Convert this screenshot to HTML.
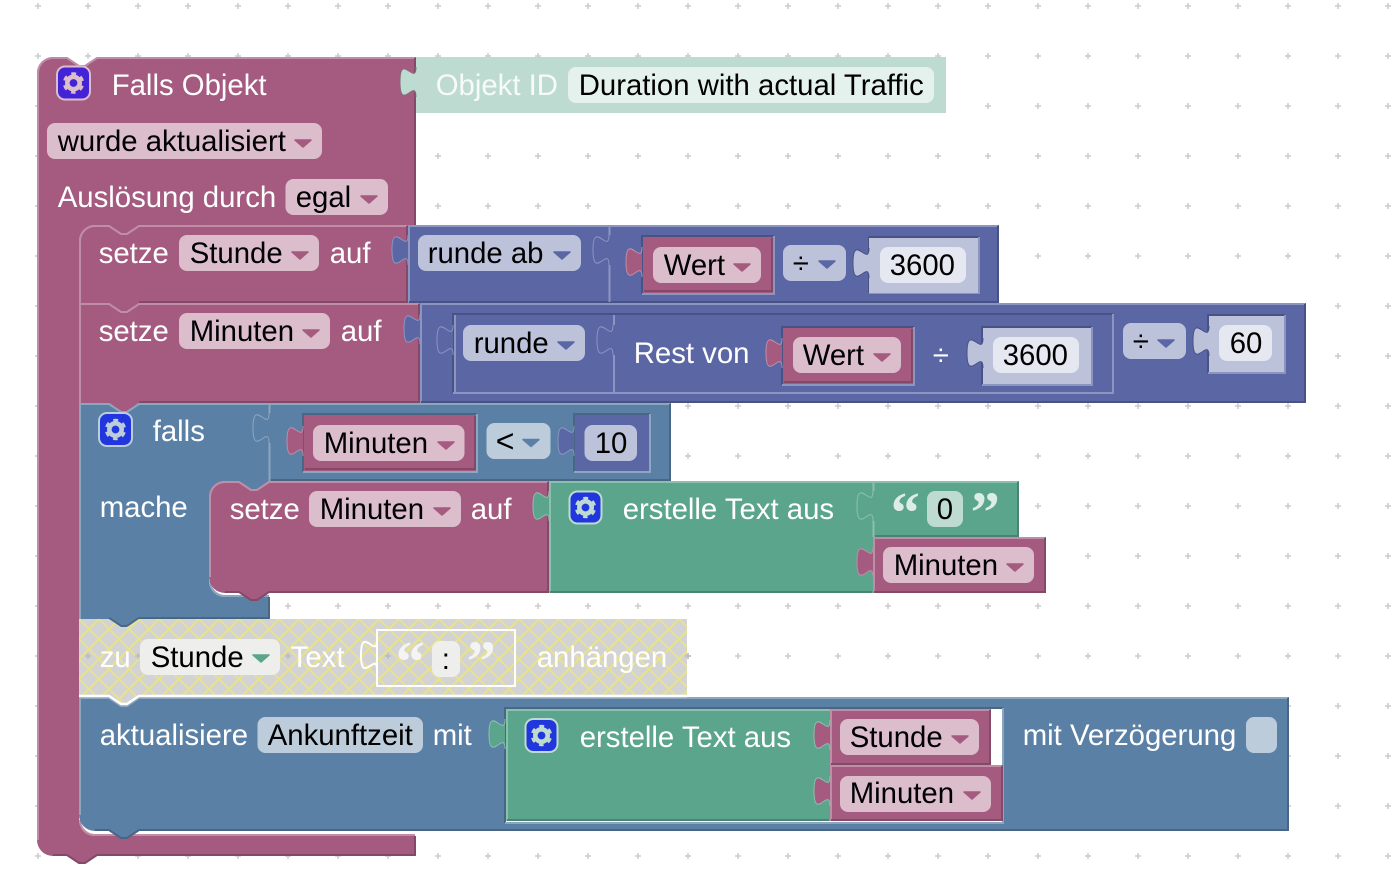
<!DOCTYPE html>
<html><head><meta charset="utf-8"><style>
html,body{margin:0;padding:0;background:#fff}
svg{display:block}
text{font-family:"Liberation Sans",sans-serif;font-size:29.33px;white-space:pre;transform:translate(-.3px,0)}
.t{fill:#fff}.k{fill:#000}
.q{font-family:"Liberation Serif",serif;font-weight:bold;font-size:58px}
.lp,.dp,.lb,.db,.li,.di,.lg,.dg{fill:none;stroke-width:2}
.lp{stroke:#c08da6}.dp{stroke:#844966}.lb{stroke:#8ca6c0}.db{stroke:#496684}
.li{stroke:#8c95c0}.di{stroke:#495284}.lg{stroke:#8cc0ae}.dg{stroke:#498470}
</style></head><body>
<svg width="1400" height="896" viewBox="0 0 1400 896" xmlns="http://www.w3.org/2000/svg">
<defs>
<pattern id="grid" width="50" height="50" x="13" y="-19" patternUnits="userSpaceOnUse"><path d="M22,25H28M25,22V28" stroke="#ccc" stroke-width="1.5" fill="none"/></pattern>
<pattern id="hatch" width="20" height="20" x="79" y="619" patternUnits="userSpaceOnUse"><path d="M0,0L20,20M20,0L0,20" stroke="#e8e28c" stroke-width="2" fill="none"/></pattern>
<path id="tab" d="M0,30c0,-20 -16,16 -16,-15s16,5 16,-15"/>
<path id="arr" d="M1,1H17L9,8Z" stroke-width="1.5" stroke-linejoin="round"/>
<g id="gear"><circle r="6.2" fill="none" stroke-width="4.6"/><circle r="9" fill="none" stroke-width="3.4" stroke-dasharray="4.7 4.725" stroke-dashoffset="2.35" transform="rotate(90)"/></g>
</defs>
<rect width="1400" height="896" fill="#fff"/>
<rect width="1400" height="896" fill="url(#grid)"/>

<!-- Main trigger block -->
<path fill="#a55b80" d="M37,73a16,16 0 0 1 16,-16H67l12,8h6l12,-8H416V225H139l-12,8h-6l-12,-8H95a16,16 0 0 0 -16,16V820a16,16 0 0 0 16,16H416V856H97l-12,8h-6l-12,-8H53a16,16 0 0 1 -16,-16Z"/>
<path class="lp" d="M38,840V73a15,15 0 0 1 15,-15H67l12,8h6l12,-8H415"/>
<path class="dp" d="M415,58V225M415,836V855H97l-12,8h-6l-12,-8H53"/>
<path class="lp" d="M80,820a15,15 0 0 0 15,15H415"/>
<!-- Objekt ID -->
<rect x="416" y="57" width="530" height="56" fill="#bddbd1"/>
<use href="#tab" x="416" y="67" fill="#bddbd1" stroke="#8a6a7c" stroke-width="1"/>
<text x="436" y="95" class="t" opacity=".88">Objekt ID</text>
<rect x="568" y="67" width="366" height="36" rx="8" fill="#e5f1ed"/>
<text x="579" y="95" class="k">Duration with actual Traffic</text>
<rect x="57" y="66.500" width="33" height="33" rx="8" fill="#4423d6" stroke="#dbbdcc" stroke-width="2"/>
<use href="#gear" x="73.500" y="83" stroke="#dbbdcc"/>
<text x="112" y="95" class="t">Falls Objekt</text>
<rect x="47" y="123" width="275" height="36" rx="8" fill="#dbbdcc"/>
<text x="58" y="151" class="k">wurde aktualisiert</text>
<use href="#arr" x="294" y="139" fill="#a55b80" stroke="#a55b80"/>
<text x="58" y="207" class="t">Auslösung durch</text>
<rect x="285.500" y="179" width="102.500" height="36" rx="8" fill="#dbbdcc"/>
<text x="296" y="207" class="k">egal</text>
<use href="#arr" x="360" y="195" fill="#a55b80" stroke="#a55b80"/>

<!-- setze Stunde -->
<path fill="#a55b80" d="M79,241a16,16 0 0 1 16,-16H109l12,8h6l12,-8H408V303H139l-12,8h-6l-12,-8H79Z"/>
<path class="lp" d="M80,303V241a15,15 0 0 1 15,-15H109l12,8h6l12,-8H407"/>
<path class="dp" d="M407,226V302H139"/>
<text x="99" y="263" class="t">setze</text>
<rect x="179" y="235" width="140" height="36" rx="8" fill="#dbbdcc"/>
<text x="190" y="263" class="k">Stunde</text>
<use href="#arr" x="291" y="251" fill="#a55b80" stroke="#a55b80"/>
<text x="330" y="263" class="t">auf</text>

<!-- runde ab -->
<rect x="408" y="225" width="591" height="78" fill="#5b67a5"/>
<path class="li" d="M409,303V226H998"/>
<path class="di" d="M998,226V302H409"/>
<use href="#tab" x="408" y="235" fill="#5b67a5" stroke="#8c95c0" stroke-width="1"/>
<rect x="418" y="235" width="163" height="36" rx="8" fill="#bdc2db"/>
<text x="428" y="263" class="k">runde ab</text>
<use href="#arr" x="553" y="251" fill="#5b67a5" stroke="#5b67a5"/>
<path class="li" d="M609.500,226V235M609.500,265V302"/>
<use href="#tab" x="609" y="235" fill="#5b67a5" stroke="#8c95c0" stroke-width="1"/>
<path class="di" d="M642,294V236H774"/><path class="li" d="M774,236V294H642"/>
<rect x="643" y="237" width="130" height="56" fill="#a55b80"/>
<path class="dp" d="M772,238V291H644"/>
<use href="#tab" x="642" y="247" fill="#a55b80" stroke="#c08da6" stroke-width="1"/>
<rect x="653" y="247" width="108" height="36" rx="8" fill="#dbbdcc"/>
<text x="664" y="275" class="k">Wert</text>
<use href="#arr" x="733" y="263" fill="#a55b80" stroke="#a55b80"/>
<rect x="783" y="245" width="63" height="36" rx="8" fill="#bdc2db"/>
<text x="793" y="273" class="k">÷</text>
<use href="#arr" x="818" y="260" fill="#5b67a5" stroke="#5b67a5"/>
<path class="di" d="M869,293V237H979"/><path class="li" d="M979,237V293H869"/>
<rect x="869" y="238" width="109" height="55" fill="#bdc2db"/>
<use href="#tab" x="869" y="248" fill="#bdc2db" stroke="#495284" stroke-width="1"/>
<rect x="880" y="247" width="86" height="36" rx="8" fill="#e5e7f1"/>
<text x="890" y="275" class="k">3600</text>

<!-- setze Minuten outer -->
<path fill="#a55b80" d="M79,303H109l12,8h6l12,-8H420V403H139l-12,8h-6l-12,-8H79Z"/>
<path class="lp" d="M80,403V304H109l12,8h6l12,-8H419"/>
<path class="dp" d="M419,304V402H139"/>
<text x="99" y="341" class="t">setze</text>
<rect x="179" y="313" width="151" height="36" rx="8" fill="#dbbdcc"/>
<text x="190" y="341" class="k">Minuten</text>
<use href="#arr" x="302" y="329" fill="#a55b80" stroke="#a55b80"/>
<text x="341" y="341" class="t">auf</text>

<!-- outer arithmetic -->
<rect x="420" y="303" width="886" height="100" fill="#5b67a5"/>
<path class="li" d="M421,403V304H1305"/>
<path class="di" d="M1305,304V402H421"/>
<use href="#tab" x="420" y="314" fill="#5b67a5" stroke="#8c95c0" stroke-width="1"/>
<path class="di" d="M453,393V314H1113"/><path class="li" d="M1113,314V393H453"/>
<path class="li" d="M455,394V315M614,315V325M614,355V392"/>
<use href="#tab" x="453" y="325" fill="#5b67a5" stroke="#8c95c0" stroke-width="1"/>
<rect x="463" y="325" width="122" height="36" rx="8" fill="#bdc2db"/>
<text x="474" y="353" class="k">runde</text>
<use href="#arr" x="557" y="341" fill="#5b67a5" stroke="#5b67a5"/>
<use href="#tab" x="613" y="325" fill="#5b67a5" stroke="#8c95c0" stroke-width="1"/>
<text x="634" y="363" class="t">Rest von</text>
<path class="di" d="M782,385V327H914"/><path class="li" d="M914,327V385H782"/>
<rect x="783" y="328" width="130" height="56" fill="#a55b80"/>
<path class="dp" d="M912,329V382H784"/>
<use href="#tab" x="782" y="338" fill="#a55b80" stroke="#c08da6" stroke-width="1"/>
<rect x="793" y="337" width="108" height="36" rx="8" fill="#dbbdcc"/>
<text x="803" y="365" class="k">Wert</text>
<use href="#arr" x="873" y="353" fill="#a55b80" stroke="#a55b80"/>
<text x="933" y="365" class="t">÷</text>
<path class="di" d="M982,385V327H1092"/><path class="li" d="M1092,327V385H982"/>
<rect x="983" y="328" width="108" height="56" fill="#bdc2db"/>
<use href="#tab" x="983" y="338" fill="#bdc2db" stroke="#495284" stroke-width="1"/>
<rect x="993" y="337" width="86" height="36" rx="8" fill="#e5e7f1"/>
<text x="1003" y="365" class="k">3600</text>
<rect x="1123" y="323" width="63" height="36" rx="8" fill="#bdc2db"/>
<text x="1133" y="351" class="k">÷</text>
<use href="#arr" x="1157" y="339" fill="#5b67a5" stroke="#5b67a5"/>
<path class="di" d="M1208,373V315H1285"/><path class="li" d="M1285,315V373H1208"/>
<rect x="1209" y="316" width="75" height="56" fill="#bdc2db"/>
<use href="#tab" x="1209" y="326" fill="#bdc2db" stroke="#495284" stroke-width="1"/>
<rect x="1219" y="325" width="53" height="36" rx="8" fill="#e5e7f1"/>
<text x="1230" y="353" class="k">60</text>

<!-- falls block -->
<path fill="#5b80a5" d="M79,403H109l12,8h6l12,-8H671V481H269l-12,8h-6l-12,-8H225a16,16 0 0 0 -16,16V581a16,16 0 0 0 16,16H269V619H139l-12,8h-6l-12,-8H79Z"/>
<path class="lb" d="M80,619V404H109l12,8h6l12,-8H670"/>
<path class="db" d="M670,404V480H270M269,597V618H139l-12,8h-6l-12,-8"/>
<path class="lb" d="M269.500,404V413M269.500,443V481M210,581a15,15 0 0 0 15,15H269"/>
<use href="#tab" x="269" y="413" fill="#5b80a5" stroke="#8ca6c0" stroke-width="1"/>
<rect x="99" y="413" width="33" height="33" rx="8" fill="#2236de" stroke="#bdccdb" stroke-width="2"/>
<use href="#gear" x="115.500" y="429.500" stroke="#bdccdb"/>
<text x="153" y="441" class="t">falls</text>
<text x="100" y="517" class="t">mache</text>
<path class="db" d="M303,472V414H477"/><path class="lb" d="M477,414V472H303"/>
<rect x="304" y="415" width="172" height="56" fill="#a55b80"/>
<path class="dp" d="M475,416V469H305"/>
<use href="#tab" x="303" y="426" fill="#a55b80" stroke="#c08da6" stroke-width="1"/>
<rect x="313" y="425" width="151.500" height="36" rx="8" fill="#dbbdcc"/>
<text x="324" y="453" class="k">Minuten</text>
<use href="#arr" x="437" y="441" fill="#a55b80" stroke="#a55b80"/>
<rect x="486.500" y="423" width="64" height="36" rx="8" fill="#bdccdb"/>
<text x="496" y="452" class="k" style="font-size:32px">&lt;</text>
<use href="#arr" x="522" y="438.500" fill="#5b80a5" stroke="#5b80a5"/>
<path class="db" d="M574,472V414H650"/><path class="lb" d="M650,414V472H574"/>
<rect x="575" y="415" width="74" height="56" fill="#5b67a5"/>
<use href="#tab" x="574" y="426" fill="#5b67a5" stroke="#8c95c0" stroke-width="1"/>
<rect x="584.500" y="425" width="52.500" height="36" rx="8" fill="#bdc2db"/>
<text x="595" y="453" class="k">10</text>

<!-- setze Minuten inner -->
<path fill="#a55b80" d="M209,497a16,16 0 0 1 16,-16H239l12,8h6l12,-8H549V593H269l-12,8h-6l-12,-8H225a16,16 0 0 1 -16,-16Z"/>
<path class="lp" d="M210,577V497a15,15 0 0 1 15,-15H239l12,8h6l12,-8H548"/>
<path class="dp" d="M548,482V592H269l-12,8h-6l-12,-8H225"/>
<text x="230" y="519" class="t">setze</text>
<rect x="309" y="491" width="152" height="36" rx="8" fill="#dbbdcc"/>
<text x="320" y="519" class="k">Minuten</text>
<use href="#arr" x="433" y="507" fill="#a55b80" stroke="#a55b80"/>
<text x="471" y="519" class="t">auf</text>

<!-- erstelle Text aus 1 -->
<rect x="549" y="481" width="324" height="112" fill="#5ba58c"/>
<path class="lg" d="M550,593V482H873"/>
<path class="dg" d="M872,592H550"/>
<use href="#tab" x="549" y="491" fill="#5ba58c" stroke="#8cc0ae" stroke-width="1"/>
<rect x="569.500" y="491.500" width="32" height="32" rx="8" fill="#2236de" stroke="#bddbd1" stroke-width="2"/>
<use href="#gear" x="585.500" y="507.500" stroke="#bddbd1"/>
<text x="623" y="519" class="t">erstelle Text aus</text>
<rect x="873" y="481" width="146" height="56" fill="#5ba58c"/>
<path class="lg" d="M873.500,482V491M873.500,521V537M873,482H1018"/>
<path class="dg" d="M1018,482V536H875"/>
<use href="#tab" x="873" y="491" fill="#5ba58c" stroke="#8cc0ae" stroke-width="1"/>
<text x="891" y="532" class="q" fill="#dcece6">“</text>
<rect x="927" y="491" width="36" height="36" rx="8" fill="#bddbd1"/>
<text x="937" y="519" class="k">0</text>
<text x="971" y="532" class="q" fill="#dcece6">”</text>
<rect x="873" y="537" width="173" height="56" fill="#a55b80"/>
<path class="lp" d="M874,593V538H1045"/>
<path class="dp" d="M1045,538V592H874"/>
<use href="#tab" x="873" y="547" fill="#a55b80" stroke="#c08da6" stroke-width="1"/>
<rect x="883" y="547" width="151" height="36" rx="8" fill="#dbbdcc"/>
<text x="894" y="575" class="k">Minuten</text>
<use href="#arr" x="1006" y="563" fill="#a55b80" stroke="#a55b80"/>

<!-- update block -->
<path fill="#5b80a5" d="M79,697H109l12,8h6l12,-8H1289V831H139l-12,8h-6l-12,-8H95a16,16 0 0 1 -16,-16Z"/>
<path class="lb" d="M80,815V698H109l12,8h6l12,-8H1288"/>
<path class="db" d="M1288,698V830H139l-12,8h-6l-12,-8H95"/>
<text x="100" y="745" class="t">aktualisiere</text>
<rect x="257.500" y="717" width="165.500" height="36" rx="8" fill="#bdccdb"/>
<text x="268" y="745" class="k">Ankunftzeit</text>
<text x="433" y="745" class="t">mit</text>
<path fill="#fff" d="M505,708H1003V823H505Z"/>
<path class="db" d="M505,823V708H1003"/><path class="lb" d="M1003,708V823H505"/>
<rect x="506" y="709" width="324" height="112" fill="#5ba58c"/>
<path class="lg" d="M507,821V710H830"/>
<path class="dg" d="M829,820H507"/>
<use href="#tab" x="505" y="719" fill="#5ba58c" stroke="#8cc0ae" stroke-width="1"/>
<rect x="525.500" y="719" width="32" height="33" rx="8" fill="#2236de" stroke="#bddbd1" stroke-width="2"/>
<use href="#gear" x="541.500" y="735.500" stroke="#bddbd1"/>
<text x="580" y="747" class="t">erstelle Text aus</text>
<rect x="830" y="709" width="161" height="56" fill="#a55b80"/>
<path class="lp" d="M831,765V710H990"/>
<path class="dp" d="M990,710V764H831"/>
<use href="#tab" x="830" y="720" fill="#a55b80" stroke="#8cc0ae" stroke-width="1"/>
<rect x="840" y="719" width="139" height="36" rx="8" fill="#dbbdcc"/>
<text x="850" y="747" class="k">Stunde</text>
<use href="#arr" x="951" y="735" fill="#a55b80" stroke="#a55b80"/>
<rect x="830" y="765" width="173" height="56" fill="#a55b80"/>
<path class="lp" d="M831,821V766H1002"/>
<path class="dp" d="M1002,766V820H831"/>
<use href="#tab" x="830" y="776" fill="#a55b80" stroke="#8cc0ae" stroke-width="1"/>
<rect x="840" y="776" width="151" height="36" rx="8" fill="#dbbdcc"/>
<text x="850" y="803" class="k">Minuten</text>
<use href="#arr" x="963" y="791" fill="#a55b80" stroke="#a55b80"/>
<text x="1023" y="745" class="t">mit Verzögerung</text>
<rect x="1246" y="717" width="31" height="36" rx="8" fill="#bdccdb"/>

<!-- disabled block -->
<path fill="#d3d3d3" d="M79,619H109l12,8h6l12,-8H687V695H139l-12,8h-6l-12,-8H79Z"/>
<path fill="url(#hatch)" d="M79,619H109l12,8h6l12,-8H687V695H139l-12,8h-6l-12,-8H79Z"/>
<path d="M79,696H109l12,8h6l12,-8H687" fill="none" stroke="#fff" stroke-width="2.500"/>
<path d="M85,656h6M88,653v6M135,656h6M138,653v6M285,656h6M288,653v6M385,656h6M388,653v6M685,656h6M688,653v6" stroke="#bbb" stroke-width="1.500" fill="none"/>
<text x="100" y="667" class="t">zu</text>
<rect x="140" y="639" width="140" height="36" rx="8" fill="#eeeeec"/>
<text x="151" y="667" class="k">Stunde</text>
<use href="#arr" x="252" y="654" fill="#5ba58c" stroke="#5ba58c"/>
<text x="291" y="667" class="t">Text</text>
<rect x="377" y="630" width="138" height="56" fill="none" stroke="#fff" stroke-width="2"/>
<use href="#tab" x="377" y="640" fill="none" stroke="#fff" stroke-width="2"/>
<text x="396" y="681" class="q" fill="#f4f4f4">“</text>
<rect x="432" y="641" width="28" height="36" rx="8" fill="#eeeeec"/>
<text x="442" y="669" class="k">:</text>
<text x="467" y="681" class="q" fill="#f4f4f4">”</text>
<text x="537" y="667" class="t">anhängen</text>
</svg>
</body></html>
